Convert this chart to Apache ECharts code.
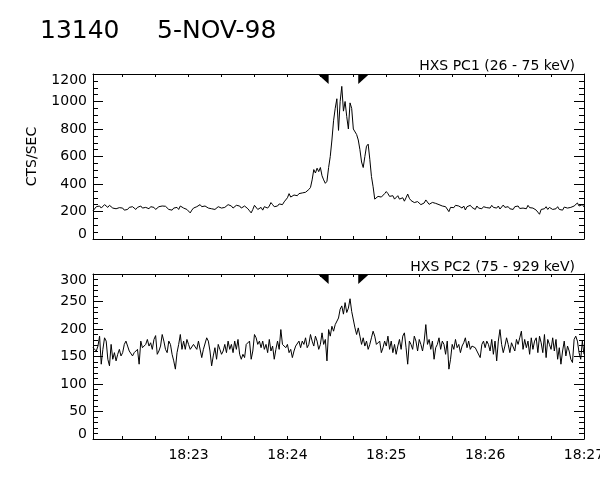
<!DOCTYPE html>
<html>
<head>
<meta charset="utf-8">
<script src="https://cdn.jsdelivr.net/npm/echarts@6/dist/echarts.min.js"></script>
<style>
html, body { margin: 0; background: #fff; }
#chart { width: 600px; height: 480px; }
</style>
</head>
<body>
<div id="chart"></div>
<script>
// time in seconds after 18:22:00, one sample per second starting at 18:22:02
var startSec = 2;
var endSec = 300;

// HXS PC1 (26 - 75 keV), cts/sec
var pc1Counts = [
  205,215,235,230,240,225,235,250,240,230,
  245,235,225,230,220,215,228,240,225,210,
  200,215,230,220,235,225,215,230,220,240,
  225,215,230,235,220,235,225,230,215,225,
  235,240,240,240,238,225,215,205,210,225,
  220,230,215,240,235,225,230,215,205,190,
  210,225,220,235,245,250,235,225,240,230,
  225,230,220,230,215,225,235,240,225,220,
  230,235,250,258,240,225,235,245,258,240,
  225,230,240,235,220,205,190,215,245,235,
  215,225,230,210,235,245,225,240,265,250,
  235,245,240,255,265,250,270,280,300,330,
  305,295,320,325,315,330,320,335,325,340,
  345,360,375,430,505,480,515,490,520,460,
  430,405,420,520,600,720,860,950,1020,790,
  1000,1110,930,1000,890,800,990,950,800,790,
  760,720,650,560,520,600,675,690,580,455,
  380,290,300,310,320,305,315,330,345,330,
  310,320,315,290,300,315,290,285,300,275,
  300,327,296,280,276,265,259,272,265,250,
  247,262,284,270,252,260,266,255,259,262,
  250,247,240,245,235,225,199,230,240,228,
  245,235,240,230,225,240,211,235,222,245,
  230,235,215,240,225,211,220,235,245,228,
  235,225,245,230,235,225,240,218,232,247,
  230,225,235,220,228,215,235,225,240,222,
  230,225,235,220,245,228,240,225,215,210,
  195,180,215,225,220,235,215,230,222,215,
  228,220,235,215,225,210,232,220,225,215,
  230,225,240,245,262,240,235,250,233
];

// HXS PC2 (75 - 929 keV), cts/sec
var pc2Counts = [
  166,168,160,169,187,136,163,184,178,145,
  133,172,145,157,142,154,163,151,157,172,
  178,169,160,157,151,157,160,163,136,178,
  166,163,172,181,169,175,163,181,188,154,
  160,169,190,178,163,157,178,172,154,142,
  127,157,172,190,163,178,163,181,172,163,
  166,172,169,163,178,175,148,163,160,184,
  178,160,133,151,166,145,172,163,154,160,
  172,157,178,163,172,157,178,163,181,154,
  145,154,148,172,175,178,145,160,190,184,
  172,178,166,178,163,172,157,181,160,169,
  145,163,178,163,199,172,169,166,172,157,
  163,148,160,169,172,178,166,178,172,184,
  166,172,190,178,169,187,178,163,172,193,
  172,181,142,199,187,205,196,208,211,220,
  236,242,227,248,230,238,255,232,230,202,
  190,202,187,172,184,169,178,163,172,184,
  196,187,172,169,178,157,166,178,169,187,
  163,178,157,172,154,169,181,163,187,193,
  166,136,178,172,163,187,178,160,181,
  172,160,178,208,172,181,163,178,145,166,
  172,184,163,178,172,154,178,127,145,172,
  163,181,166,172,157,169,175,184,166,178,
  163,169,172,166,160,163,148,172,178,166,
  178,172,160,181,154,178,142,178,199,172,
  157,169,184,172,157,175,178,160,181,172,
  184,196,163,181,166,178,154,184,163,178,
  184,157,187,175,157,190,148,181,172,163,
  184,160,181,145,166,136,160,178,151,169,
  160,145,139,181,187,178,157,145,178,154
];

// interval markers (seconds) shown as black triangles on the top edge
var markTimes = [145, 163];

// axis ticks
var tickSeconds = [20, 40, 60, 80, 100, 120, 140, 160, 180, 200, 220, 240, 260, 280, 300];
var labelSeconds = [60, 120, 180, 240, 300];
var labelTexts = ['18:23', '18:24', '18:25', '18:26', '18:27'];

var FONT = 'DejaVu Sans';
var BLACK = '#000';

function toPairs(arr) {
  return arr.map(function (v, i) { return [startSec + i, v]; });
}

function fmtTime(v) {
  var i = labelSeconds.indexOf(v);
  return i >= 0 ? labelTexts[i] : '';
}

function xAxisFor(grid, pos, withLabels) {
  return {
    type: 'value', gridIndex: grid, position: pos, min: startSec, max: endSec,
    axisLine: { show: true, onZero: false, lineStyle: { color: BLACK, width: 1 } },
    axisTick: { show: true, inside: true, length: 3, customValues: tickSeconds, lineStyle: { color: BLACK } },
    axisLabel: {
      show: withLabels, customValues: labelSeconds, formatter: fmtTime,
      color: BLACK, fontFamily: FONT, fontSize: 14, margin: 9, hideOverlap: false
    },
    splitLine: { show: false }
  };
}

function yAxisFor(grid, pos, max, step, minor, withLabels, name) {
  var lbl = { fontFamily: FONT, fontSize: 14, color: BLACK };
  return {
    type: 'value', gridIndex: grid, position: pos, min: 0, max: max, interval: step,
    name: name || '', nameLocation: 'middle', nameRotate: 90, nameGap: 54,
    nameTextStyle: { fontFamily: FONT, fontSize: 14, color: BLACK },
    axisLine: { show: true, onZero: false, lineStyle: { color: BLACK, width: 1 } },
    axisTick: { show: true, inside: true, length: 10, lineStyle: { color: BLACK } },
    minorTick: { show: true, splitNumber: minor, length: 5, lineStyle: { color: BLACK } },
    axisLabel: {
      show: withLabels, margin: 6, color: BLACK, fontFamily: FONT, fontSize: 14,
      formatter: function (v) {
        if (v === max) return '{hi|' + v + '}';
        if (v === 0) return '{lo|' + v + '}';
        return '{n|' + v + '}';
      },
      rich: {
        n: lbl,
        hi: Object.assign({ padding: [12, 0, 0, 0] }, lbl),
        lo: Object.assign({ padding: [0, 0, 10, 0] }, lbl)
      }
    },
    splitLine: { show: false },
    minorSplitLine: { show: false }
  };
}

function markerSeries(xi, yi, top) {
  return {
    type: 'scatter', xAxisIndex: xi, yAxisIndex: yi, clip: false, silent: true,
    itemStyle: { color: BLACK, opacity: 1 },
    data: [
      { value: [markTimes[0], top], symbol: 'path://M0,0L10,0L10,10Z', symbolSize: [11, 10], symbolOffset: [-5.5, 5] },
      { value: [markTimes[1], top], symbol: 'path://M0,0L10,0L0,10Z', symbolSize: [11, 10], symbolOffset: [5.5, 5] }
    ]
  };
}

function titleText(text, pos, size) {
  return Object.assign({
    text: text, padding: 0,
    textStyle: { fontFamily: FONT, fontSize: size, fontWeight: 'normal', color: BLACK }
  }, pos);
}

var chart = echarts.init(document.getElementById('chart'), null, { renderer: 'canvas' });

chart.setOption({
  animation: false,
  backgroundColor: '#fff',
  title: [
    titleText('13140', { left: 40, top: 19 }, 25),
    titleText('5-NOV-98', { left: 157, top: 19 }, 25),
    titleText('HXS PC1 (26 - 75 keV)', { right: 25, top: 59 }, 14),
    titleText('HXS PC2 (75 - 929 keV)', { right: 25, top: 260 }, 14)
  ],
  grid: [
    { left: 93, right: 16, top: 74, height: 165, outerBoundsMode: 'none' },
    { left: 93, right: 16, top: 274, height: 165, outerBoundsMode: 'none' }
  ],
  xAxis: [
    xAxisFor(0, 'bottom', false),
    xAxisFor(0, 'top', false),
    xAxisFor(1, 'bottom', true),
    xAxisFor(1, 'top', false)
  ],
  yAxis: [
    yAxisFor(0, 'left', 1200, 200, 4, true, 'CTS/SEC'),
    yAxisFor(0, 'right', 1200, 200, 4, false),
    yAxisFor(1, 'left', 300, 50, 5, true),
    yAxisFor(1, 'right', 300, 50, 5, false)
  ],
  series: [
    {
      type: 'line', xAxisIndex: 0, yAxisIndex: 0, data: toPairs(pc1Counts),
      showSymbol: false, symbol: 'none', lineStyle: { color: BLACK, width: 1 }
    },
    {
      type: 'line', xAxisIndex: 2, yAxisIndex: 2, data: toPairs(pc2Counts),
      showSymbol: false, symbol: 'none', lineStyle: { color: BLACK, width: 1 }
    },
    markerSeries(0, 0, 1200),
    markerSeries(2, 2, 300)
  ]
});
</script>
</body>
</html>
